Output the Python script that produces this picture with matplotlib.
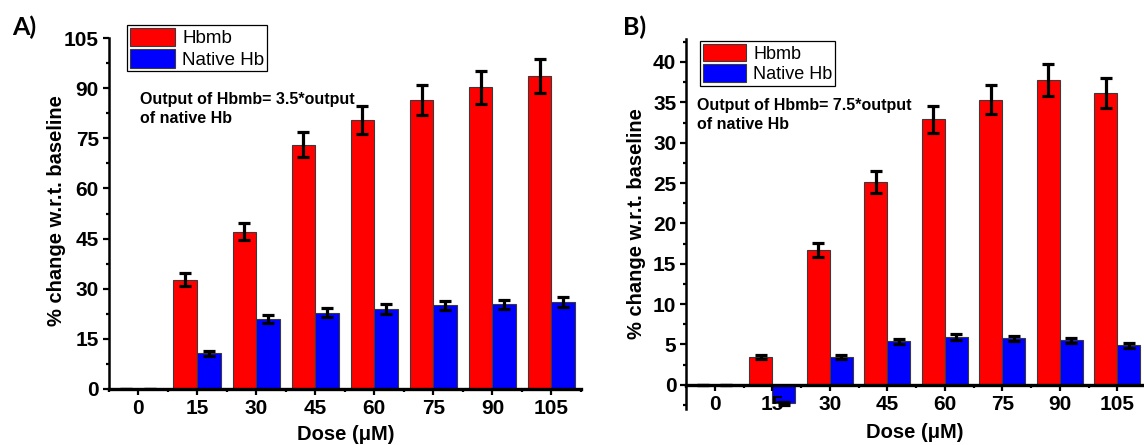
import numpy as np
import matplotlib
matplotlib.use('Agg')
from matplotlib import pyplot as plt
from matplotlib.ticker import MultipleLocator, FixedLocator

plt.rcParams['font.family'] = ['Liberation Sans', 'DejaVu Sans']

doses = ['0', '15', '30', '45', '60', '75', '90', '105']

# panel A
hbmb_a = [0, 32.7, 47.1, 73.1, 80.5, 86.4, 90.2, 93.6]
hbmb_a_err = [0, 1.9, 2.6, 3.8, 4.3, 4.5, 4.8, 5.0]
native_a = [0, 10.7, 20.9, 22.8, 23.8, 25.0, 25.3, 25.9]
native_a_err = [0, 0.8, 1.3, 1.4, 1.5, 1.4, 1.45, 1.5]

# panel B
hbmb_b = [0, 3.4, 16.7, 25.1, 32.9, 35.3, 37.75, 36.2]
hbmb_b_err = [0, 0.25, 0.9, 1.35, 1.7, 1.8, 1.95, 1.85]
native_b = [0, -2.3, 3.4, 5.4, 5.9, 5.75, 5.5, 4.9]
native_b_err = [0, 0.2, 0.25, 0.3, 0.35, 0.35, 0.3, 0.3]

W, H = 1144, 445
fig = plt.figure(figsize=(W / 100, H / 100), dpi=100)


def px_axes(left, right, top, bottom):
    return fig.add_axes([left / W, 1 - bottom / H, (right - left) / W, (bottom - top) / H])


def draw_panel(ax, hbmb, hbmb_err, native, native_err, ylim, major, leg_xy, leg_fs, note, note_xy):
    x = np.arange(len(doses))
    w = 0.4
    # zero-height bars get no outline so the axis line stays clean
    ax.bar(x - w / 2, hbmb, w, color='#ff0000', edgecolor='#3a3a3a',
           linewidth=[0.8 if v != 0 else 0 for v in hbmb], label='Hbmb')
    ax.bar(x + w / 2, native, w, color='#0000ff', edgecolor='#3a3a3a',
           linewidth=[0.8 if v != 0 else 0 for v in native], label='Native Hb')
    ax.errorbar(x - w / 2, hbmb, yerr=hbmb_err, fmt='none', ecolor='black',
                elinewidth=2.3, capsize=4, capthick=2.3)
    ax.errorbar(x + w / 2, native, yerr=native_err, fmt='none', ecolor='black',
                elinewidth=2.3, capsize=4, capthick=2.3)

    ax.set_xlim(-0.5, 7.5)
    ax.set_ylim(*ylim)
    ax.spines['top'].set_visible(False)
    ax.spines['right'].set_visible(False)
    ax.spines['left'].set_linewidth(1.8)
    ax.spines['bottom'].set_linewidth(2.4)
    ax.spines['bottom'].set_color('black')
    ax.spines['bottom'].set_position(('data', 0))
    ax.spines['bottom'].set_zorder(5)

    ax.set_xticks(x)
    ax.set_xticklabels(doses)
    ax.xaxis.set_minor_locator(FixedLocator(np.arange(-0.5, 7.6, 1)))
    ax.yaxis.set_major_locator(MultipleLocator(major))
    ax.yaxis.set_minor_locator(MultipleLocator(major / 2))
    ax.tick_params(which='major', direction='out', length=4, width=1.6,
                   labelsize=15, pad=3)
    ax.tick_params(which='minor', direction='out', length=2.5, width=1.6)
    for lab in ax.get_xticklabels() + ax.get_yticklabels():
        lab.set_fontweight('bold')

    leg = ax.legend(loc='upper left', bbox_to_anchor=leg_xy, fontsize=leg_fs,
                    handlelength=2.4, handleheight=1.15, borderpad=0.15,
                    labelspacing=0.08, handletextpad=0.4, borderaxespad=0,
                    fancybox=False, framealpha=1)
    leg.get_frame().set_edgecolor('black')
    leg.get_frame().set_linewidth(0.9)
    for h in leg.legend_handles:
        h.set_linewidth(0.8)

    ax.text(note_xy[0], note_xy[1], note, transform=ax.transAxes, fontsize=11.5,
            fontweight='bold', va='top', ha='left', linespacing=1.3)


ax_a = px_axes(108.5, 581, 38, 389)
draw_panel(ax_a, hbmb_a, hbmb_a_err, native_a, native_a_err, (0, 105), 15,
           (0.039, 1.037), 13.5, 'Output of Hbmb= 3.5*output\nof native Hb', (0.067, 0.845))

ax_b = px_axes(686, 1146, 39, 409)
draw_panel(ax_b, hbmb_b, hbmb_b_err, native_b, native_b_err, (-3, 42.85), 5,
           (0.03, 0.995), 13, 'Output of Hbmb= 7.5*output\nof native Hb', (0.024, 0.84))

ylab = '% change w.r.t. baseline'
fig.text(56 / W, 1 - 211 / H, ylab, rotation=90, ha='center', va='center',
         fontsize=14.5, fontweight='bold')
fig.text(636 / W, 1 - 224 / H, ylab, rotation=90, ha='center', va='center',
         fontsize=14.5, fontweight='bold')
fig.text(346 / W, 1 - 435 / H, 'Dose (μM)', ha='center', va='center',
         fontsize=14.5, fontweight='bold')
fig.text(915 / W, 1 - 432 / H, 'Dose (μM)', ha='center', va='center',
         fontsize=14.5, fontweight='bold')

fig.text(12 / W, 1 - 27 / H, 'A)', ha='left', va='center', fontsize=18,
         fontweight='bold', family=['Lato', 'DejaVu Sans'])
fig.text(623 / W, 1 - 27 / H, 'B)', ha='left', va='center', fontsize=18,
         fontweight='bold', family=['Lato', 'DejaVu Sans'])

fig.savefig('out.png', dpi=100)
